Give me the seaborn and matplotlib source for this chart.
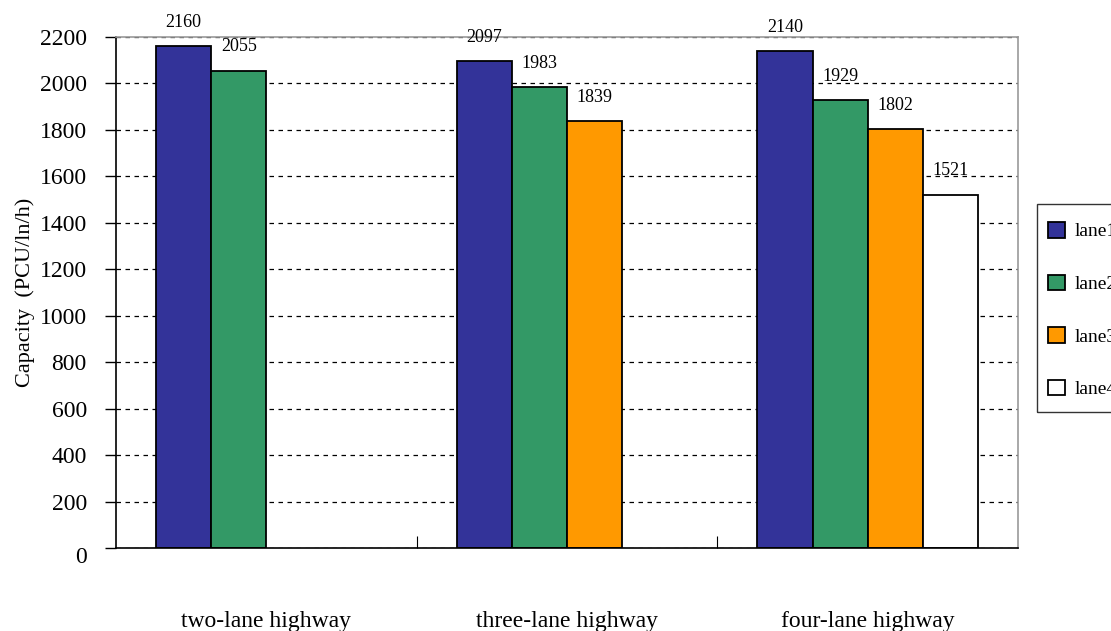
import matplotlib
matplotlib.use("Agg")
import matplotlib.pyplot as plt
import matplotlib.transforms as mtransforms
import seaborn as sns
import pandas as pd
from matplotlib.patches import Patch, Rectangle

categories = ["two-lane highway", "three-lane highway", "four-lane highway"]
lanes = ["lane1", "lane2", "lane3", "lane4"]
lane1 = [2160, 2097, 2140]
lane2 = [2055, 1983, 1929]
lane3 = [None, 1839, 1802]
lane4 = [None, None, 1521]
colors = ["#333399", "#339966", "#FF9900", "#FFFFFF"]
yticks = [0, 200, 400, 600, 800, 1000, 1200, 1400, 1600, 1800, 2000, 2200]

rows = []
for lane, vals in zip(lanes, [lane1, lane2, lane3, lane4]):
    for cat, v in zip(categories, vals):
        if v is not None:
            rows.append({"category": cat, "lane": lane, "value": v})
df = pd.DataFrame(rows)

sns.set_theme(style="white")
plt.rcParams["font.family"] = ["Liberation Serif", "DejaVu Serif"]
plt.rcParams["text.color"] = "black"
plt.rcParams["axes.labelcolor"] = "black"
plt.rcParams["xtick.color"] = "black"
plt.rcParams["ytick.color"] = "black"

fig = plt.figure(figsize=(11.11, 6.31), dpi=100)
ax = fig.add_axes([116/1111, 1-548/631, (1018-116)/1111, (548-37)/631])

sns.barplot(data=df, x="category", y="value", hue="lane", order=categories,
            hue_order=lanes, palette=colors, width=0.733, edgecolor="black",
            linewidth=1.3, ax=ax, legend=False, saturation=1)

for cont in ax.containers:
    labels = [f"{int(round(b.get_height()))}" for b in cont]
    ax.bar_label(cont, labels=labels, padding=11, fontsize=13, color="black")

ax.set_xlim(-0.5, 2.5)
ax.set_ylim(0, 2200)
ax.set_yticks(yticks)
ax.set_yticklabels([str(t) for t in yticks], fontsize=17)
ax.yaxis.grid(True, linestyle=(0, (3.6, 3.6)), color="black", linewidth=0.9)
ax.set_axisbelow(True)

ax.set_xlabel("")
ax.set_ylabel("Capacity  (PCU/ln/h)", fontsize=16)
ax.yaxis.set_label_coords(-(116-35)/902, 0.5)
ax.set_xticks([0, 1, 2])
ax.set_xticklabels(categories, fontsize=17)
ax.tick_params(axis="x", which="major", length=0, pad=45, bottom=True)
ax.set_xticks([0.5, 1.5], minor=True)
ax.tick_params(axis="x", which="minor", direction="in", length=9, width=0.8,
               color="black", bottom=True)
ax.tick_params(axis="y", which="major", direction="out", length=8, width=1,
               color="black", left=True, pad=13)

# shift the "0" label down like the reference
for lbl in ax.get_yticklabels():
    if lbl.get_text() == "0":
        lbl.set_transform(lbl.get_transform() + mtransforms.ScaledTranslation(0, -5/72, fig.dpi_scale_trans))

for s in ["left", "bottom"]:
    ax.spines[s].set_color("black")
    ax.spines[s].set_linewidth(1.2)
for s in ["top", "right"]:
    ax.spines[s].set_color("#999999")
    ax.spines[s].set_linewidth(1.2)

# legend frame (drawn separately: the reference has much more vertical padding)
fig.patches.append(Rectangle((1037/1111, 1-412/631), 0.2, (412-204)/631,
                             transform=fig.transFigure, fill=False,
                             edgecolor="#333333", linewidth=1.0))

handles = [Patch(facecolor=c, edgecolor="black", linewidth=1.3) for c in colors]
leg = fig.legend(handles, lanes, loc="upper left",
                 bbox_to_anchor=(1048/1111, 1-222/631), bbox_transform=fig.transFigure,
                 borderaxespad=0, fontsize=14, handlelength=0.85, handleheight=0.85,
                 labelspacing=1.75, frameon=False, borderpad=0,
                 handletextpad=0.5)

fig.savefig("out.png", dpi=100)
